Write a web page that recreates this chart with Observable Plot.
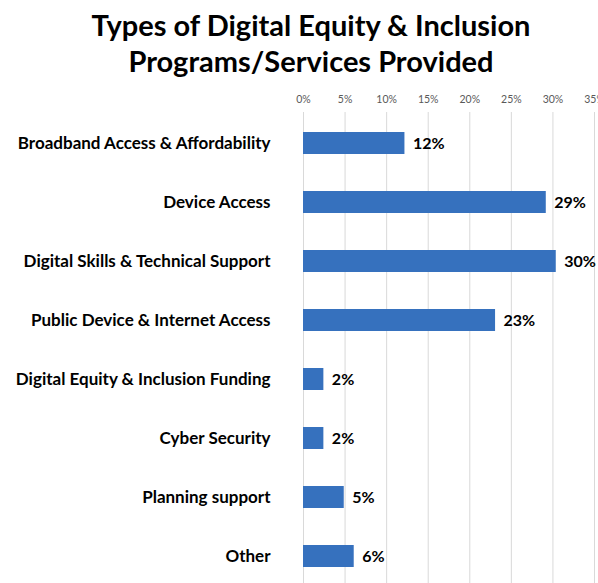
<!DOCTYPE html>
<html><head><meta charset="utf-8">
<script src="https://cdn.jsdelivr.net/npm/d3@7"></script>
<script src="https://cdn.jsdelivr.net/npm/@observablehq/plot@0.6"></script>
<style>
html,body{margin:0;padding:0;background:#fff;overflow:hidden;width:598px;height:583px}
#title{box-sizing:border-box;height:85px;padding-top:7px;padding-left:24px;font-family:Lato,sans-serif;font-weight:700;font-size:29px;line-height:36px;text-align:center;color:#000}
#chart svg{display:block}
</style>
</head><body>
<div id="title">Types of Digital Equity &amp; Inclusion<br>Programs/Services Provided</div>
<div id="chart"></div>
<script>
const categories = [
  "Broadband Access & Affordability",
  "Device Access",
  "Digital Skills & Technical Support",
  "Public Device & Internet Access",
  "Digital Equity & Inclusion Funding",
  "Cyber Security",
  "Planning support",
  "Other"
];
const values = [12.2, 29.2, 30.4, 23.1, 2.45, 2.45, 4.9, 6.1];
const xTicks = [0, 5, 10, 15, 20, 25, 30, 35];

const data = categories.map((c, i) => ({category: c, value: values[i]}));

const chart = Plot.plot({
  width: 598,
  height: 502,
  marginTop: 27,
  marginBottom: 0,
  marginLeft: 303,
  marginRight: 4,
  style: {fontFamily: "Lato, sans-serif", background: "#fff"},
  x: {domain: [0, 35], ticks: xTicks, axis: null},
  y: {domain: categories, paddingInner: 0.63, paddingOuter: 0.315, axis: null},
  marks: [
    Plot.ruleX(xTicks, {stroke: "#d9d9d9", strokeWidth: 1}),
    Plot.axisX({anchor: "top", ticks: xTicks, tickSize: 0, tickPadding: 10, tickFormat: d => d + "%", fontSize: 10.5, fill: "#595959", label: null}),
    Plot.axisY({anchor: "left", tickSize: 0, tickPadding: 33, fontSize: 17, fontWeight: 700, fill: "#000", label: null}),
    Plot.barX(data, {x: "value", y: "category", fill: "#3671be"}),
    Plot.text(data, {x: "value", y: "category", text: d => Math.round(d.value) + "%", dx: 8, textAnchor: "start", fontSize: 16, fontWeight: 700, fill: "#000"})
  ]
});
document.getElementById("chart").appendChild(chart);
</script>
</body></html>
